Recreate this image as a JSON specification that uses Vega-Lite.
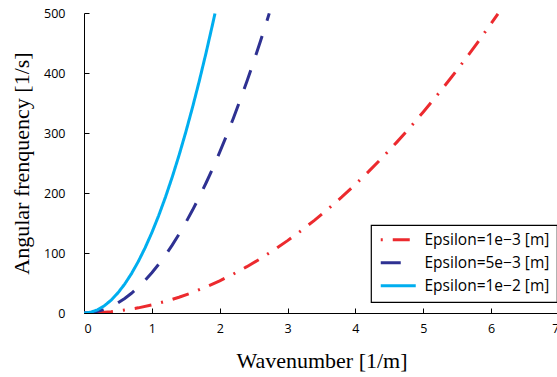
{
  "$schema": "https://vega.github.io/schema/vega-lite/v6.json",
  "width": 475,
  "height": 300,
  "autosize": {"type": "none"},
  "padding": {"left": 84, "top": 13, "right": 0, "bottom": 64},
  "background": "white",
  "data": {
    "values": [
      {"s": "Epsilon=1e−3 [m]", "k": 0, "w": 0},
      {"s": "Epsilon=1e−3 [m]", "k": 0.2, "w": 0.54},
      {"s": "Epsilon=1e−3 [m]", "k": 0.4, "w": 2.14},
      {"s": "Epsilon=1e−3 [m]", "k": 0.6, "w": 4.82},
      {"s": "Epsilon=1e−3 [m]", "k": 0.8, "w": 8.58},
      {"s": "Epsilon=1e−3 [m]", "k": 1.0, "w": 13.4},
      {"s": "Epsilon=1e−3 [m]", "k": 1.2, "w": 19.3},
      {"s": "Epsilon=1e−3 [m]", "k": 1.4, "w": 26.26},
      {"s": "Epsilon=1e−3 [m]", "k": 1.6, "w": 34.3},
      {"s": "Epsilon=1e−3 [m]", "k": 1.8, "w": 43.42},
      {"s": "Epsilon=1e−3 [m]", "k": 2.0, "w": 53.6},
      {"s": "Epsilon=1e−3 [m]", "k": 2.2, "w": 64.86},
      {"s": "Epsilon=1e−3 [m]", "k": 2.4, "w": 77.18},
      {"s": "Epsilon=1e−3 [m]", "k": 2.6, "w": 90.58},
      {"s": "Epsilon=1e−3 [m]", "k": 2.8, "w": 105.06},
      {"s": "Epsilon=1e−3 [m]", "k": 3.0, "w": 120.6},
      {"s": "Epsilon=1e−3 [m]", "k": 3.2, "w": 137.22},
      {"s": "Epsilon=1e−3 [m]", "k": 3.4, "w": 154.9},
      {"s": "Epsilon=1e−3 [m]", "k": 3.6, "w": 173.66},
      {"s": "Epsilon=1e−3 [m]", "k": 3.8, "w": 193.5},
      {"s": "Epsilon=1e−3 [m]", "k": 4.0, "w": 214.4},
      {"s": "Epsilon=1e−3 [m]", "k": 4.2, "w": 236.38},
      {"s": "Epsilon=1e−3 [m]", "k": 4.4, "w": 259.42},
      {"s": "Epsilon=1e−3 [m]", "k": 4.6, "w": 283.54},
      {"s": "Epsilon=1e−3 [m]", "k": 4.8, "w": 308.74},
      {"s": "Epsilon=1e−3 [m]", "k": 5.0, "w": 335},
      {"s": "Epsilon=1e−3 [m]", "k": 5.2, "w": 362.34},
      {"s": "Epsilon=1e−3 [m]", "k": 5.4, "w": 390.74},
      {"s": "Epsilon=1e−3 [m]", "k": 5.6, "w": 420.22},
      {"s": "Epsilon=1e−3 [m]", "k": 5.8, "w": 450.78},
      {"s": "Epsilon=1e−3 [m]", "k": 6.0, "w": 482.4},
      {"s": "Epsilon=1e−3 [m]", "k": 6.1, "w": 498.6},
      {"s": "Epsilon=5e−3 [m]", "k": 0, "w": 0},
      {"s": "Epsilon=5e−3 [m]", "k": 0.1, "w": 0.67},
      {"s": "Epsilon=5e−3 [m]", "k": 0.2, "w": 2.68},
      {"s": "Epsilon=5e−3 [m]", "k": 0.3, "w": 6.03},
      {"s": "Epsilon=5e−3 [m]", "k": 0.4, "w": 10.72},
      {"s": "Epsilon=5e−3 [m]", "k": 0.5, "w": 16.75},
      {"s": "Epsilon=5e−3 [m]", "k": 0.6, "w": 24.12},
      {"s": "Epsilon=5e−3 [m]", "k": 0.7, "w": 32.83},
      {"s": "Epsilon=5e−3 [m]", "k": 0.8, "w": 42.88},
      {"s": "Epsilon=5e−3 [m]", "k": 0.9, "w": 54.27},
      {"s": "Epsilon=5e−3 [m]", "k": 1.0, "w": 67},
      {"s": "Epsilon=5e−3 [m]", "k": 1.1, "w": 81.07},
      {"s": "Epsilon=5e−3 [m]", "k": 1.2, "w": 96.48},
      {"s": "Epsilon=5e−3 [m]", "k": 1.3, "w": 113.23},
      {"s": "Epsilon=5e−3 [m]", "k": 1.4, "w": 131.32},
      {"s": "Epsilon=5e−3 [m]", "k": 1.5, "w": 150.75},
      {"s": "Epsilon=5e−3 [m]", "k": 1.6, "w": 171.52},
      {"s": "Epsilon=5e−3 [m]", "k": 1.7, "w": 193.63},
      {"s": "Epsilon=5e−3 [m]", "k": 1.8, "w": 217.08},
      {"s": "Epsilon=5e−3 [m]", "k": 1.9, "w": 241.87},
      {"s": "Epsilon=5e−3 [m]", "k": 2.0, "w": 268},
      {"s": "Epsilon=5e−3 [m]", "k": 2.1, "w": 295.47},
      {"s": "Epsilon=5e−3 [m]", "k": 2.2, "w": 324.28},
      {"s": "Epsilon=5e−3 [m]", "k": 2.3, "w": 354.43},
      {"s": "Epsilon=5e−3 [m]", "k": 2.4, "w": 385.92},
      {"s": "Epsilon=5e−3 [m]", "k": 2.5, "w": 418.75},
      {"s": "Epsilon=5e−3 [m]", "k": 2.6, "w": 452.92},
      {"s": "Epsilon=5e−3 [m]", "k": 2.7, "w": 488.43},
      {"s": "Epsilon=5e−3 [m]", "k": 2.73, "w": 499.34},
      {"s": "Epsilon=1e−2 [m]", "k": 0, "w": 0},
      {"s": "Epsilon=1e−2 [m]", "k": 0.1, "w": 1.34},
      {"s": "Epsilon=1e−2 [m]", "k": 0.2, "w": 5.36},
      {"s": "Epsilon=1e−2 [m]", "k": 0.3, "w": 12.06},
      {"s": "Epsilon=1e−2 [m]", "k": 0.4, "w": 21.44},
      {"s": "Epsilon=1e−2 [m]", "k": 0.5, "w": 33.5},
      {"s": "Epsilon=1e−2 [m]", "k": 0.6, "w": 48.24},
      {"s": "Epsilon=1e−2 [m]", "k": 0.7, "w": 65.66},
      {"s": "Epsilon=1e−2 [m]", "k": 0.8, "w": 85.76},
      {"s": "Epsilon=1e−2 [m]", "k": 0.9, "w": 108.54},
      {"s": "Epsilon=1e−2 [m]", "k": 1.0, "w": 134},
      {"s": "Epsilon=1e−2 [m]", "k": 1.1, "w": 162.14},
      {"s": "Epsilon=1e−2 [m]", "k": 1.2, "w": 192.96},
      {"s": "Epsilon=1e−2 [m]", "k": 1.3, "w": 226.46},
      {"s": "Epsilon=1e−2 [m]", "k": 1.4, "w": 262.64},
      {"s": "Epsilon=1e−2 [m]", "k": 1.5, "w": 301.5},
      {"s": "Epsilon=1e−2 [m]", "k": 1.6, "w": 343.04},
      {"s": "Epsilon=1e−2 [m]", "k": 1.7, "w": 387.26},
      {"s": "Epsilon=1e−2 [m]", "k": 1.8, "w": 434.16},
      {"s": "Epsilon=1e−2 [m]", "k": 1.9, "w": 483.74},
      {"s": "Epsilon=1e−2 [m]", "k": 1.93, "w": 499.1}
    ]
  },
  "mark": {"type": "line", "strokeWidth": 3, "clip": true},
  "encoding": {
    "x": {
      "field": "k", "type": "quantitative",
      "scale": {"domain": [0, 7], "nice": false, "zero": false},
      "axis": {"title": "Wavenumber [1/m]", "values": [0, 1, 2, 3, 4, 5, 6, 7], "grid": false,
               "tickSize": -5, "labelPadding": 14, "titlePadding": 16}
    },
    "y": {
      "field": "w", "type": "quantitative",
      "scale": {"domain": [0, 500], "nice": false},
      "axis": {"title": "Angular frenquency [1/s]", "values": [0, 100, 200, 300, 400, 500], "grid": false,
               "tickSize": -5, "labelPadding": 24, "titlePadding": 10}
    },
    "color": {
      "field": "s", "type": "nominal", "title": null,
      "scale": {"domain": ["Epsilon=1e−3 [m]", "Epsilon=5e−3 [m]", "Epsilon=1e−2 [m]"],
                "range": ["#EC2A2E", "#2E3192", "#00AEEF"]}
    },
    "strokeDash": {
      "field": "s", "type": "nominal", "title": null,
      "scale": {"domain": ["Epsilon=1e−3 [m]", "Epsilon=5e−3 [m]", "Epsilon=1e−2 [m]"],
                "range": [[2, 10, 17, 10], [20, 16], [1, 0]]}
    }
  },
  "config": {
    "view": {"stroke": null},
    "axis": {
      "domainColor": "#000000", "domainWidth": 1, "tickColor": "#000000", "tickWidth": 1,
      "labelFont": "Open Sans", "labelFontSize": 12.5, "labelColor": "#000000",
      "titleFont": "Liberation Serif", "titleFontSize": 22, "titleFontWeight": "normal", "titleColor": "#000000"
    },
    "legend": {
      "orient": "none", "legendX": 287, "legendY": 212,
      "strokeColor": "#000000", "strokeWidth": 1.2, "fillColor": "#ffffff",
      "padding": 7, "rowPadding": 6,
      "symbolType": "M-1,0H6", "symbolSize": 100, "symbolStrokeWidth": 3,
      "labelFont": "Open Sans", "labelFontSize": 15.5, "labelColor": "#000000", "labelOffset": 31,
      "labelLimit": 300
    }
  }
}
